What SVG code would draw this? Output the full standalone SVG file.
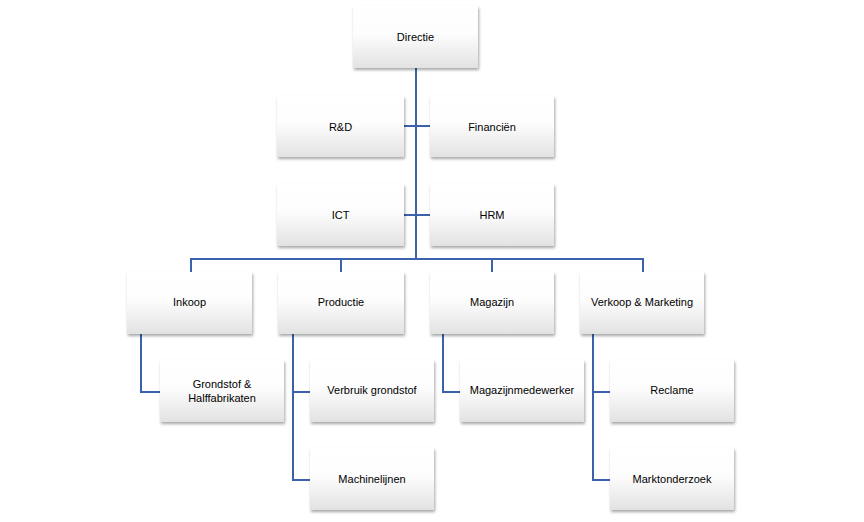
<svg xmlns="http://www.w3.org/2000/svg" width="864" height="522" viewBox="0 0 864 522">
<defs>
<linearGradient id="g" x1="0" y1="0" x2="0" y2="1">
<stop offset="0" stop-color="#ffffff"/>
<stop offset="0.45" stop-color="#fdfdfd"/>
<stop offset="1" stop-color="#e2e2e2"/>
</linearGradient>
<filter id="sh" x="-10%" y="-10%" width="130%" height="140%">
<feDropShadow dx="1" dy="2" stdDeviation="1.6" flood-color="#000" flood-opacity="0.35"/>
</filter>
<style>
.box{fill:url(#g);filter:url(#sh);}
.t{font-family:"Liberation Sans",Arial,sans-serif;font-size:11px;fill:#000;text-anchor:middle;dominant-baseline:central;}
.c{stroke:#3a62ad;stroke-width:2;fill:none;}
</style>
</defs>
<rect width="864" height="522" fill="#fff"/>
<g id="connectors">
<path class="c" d="M416 68V259M404 126H430M404 215H430M191 272V259H643V272M341 259V272M492 259V272"/>
<path class="c" d="M141 334V392H160"/>
<path class="c" d="M293 334V480H310M293 392H310"/>
<path class="c" d="M443 334V392H460"/>
<path class="c" d="M593 334V480H610M593 392H610"/>
</g>
<g id="directie"><rect class="box" x="353" y="6" width="125" height="62"/><text class="t" x="415.5" y="37">Directie</text></g>
<g id="rd"><rect class="box" x="277" y="96" width="127" height="61"/><text class="t" x="340.5" y="126.5">R&amp;D</text></g>
<g id="financien"><rect class="box" x="430" y="96" width="124" height="61"/><text class="t" x="492" y="126.5">Financiën</text></g>
<g id="ict"><rect class="box" x="277" y="184" width="127" height="62"/><text class="t" x="340.5" y="215">ICT</text></g>
<g id="hrm"><rect class="box" x="430" y="184" width="124" height="62"/><text class="t" x="492" y="215">HRM</text></g>
<g id="inkoop"><rect class="box" x="127" y="272" width="125" height="62"/><text class="t" x="189.5" y="302">Inkoop</text></g>
<g id="productie"><rect class="box" x="278" y="272" width="126" height="62"/><text class="t" x="341" y="302">Productie</text></g>
<g id="magazijn"><rect class="box" x="430" y="272" width="124" height="62"/><text class="t" x="492" y="302">Magazijn</text></g>
<g id="verkoop"><rect class="box" x="580" y="272" width="124" height="62"/><text class="t" x="642" y="302">Verkoop &amp; Marketing</text></g>
<g id="grondstof"><rect class="box" x="160" y="360" width="124" height="62"/><text class="t" x="222" y="384">Grondstof &amp;</text><text class="t" x="222" y="398">Halffabrikaten</text></g>
<g id="verbruik"><rect class="box" x="310" y="360" width="124" height="62"/><text class="t" x="372" y="390">Verbruik grondstof</text></g>
<g id="machinelijnen"><rect class="box" x="310" y="448" width="124" height="62"/><text class="t" x="372" y="479">Machinelijnen</text></g>
<g id="magazijnmedewerker"><rect class="box" x="460" y="360" width="124" height="62"/><text class="t" x="522" y="390">Magazijnmedewerker</text></g>
<g id="reclame"><rect class="box" x="610" y="360" width="124" height="62"/><text class="t" x="672" y="390">Reclame</text></g>
<g id="marktonderzoek"><rect class="box" x="610" y="448" width="124" height="62"/><text class="t" x="672" y="479">Marktonderzoek</text></g>
</svg>
